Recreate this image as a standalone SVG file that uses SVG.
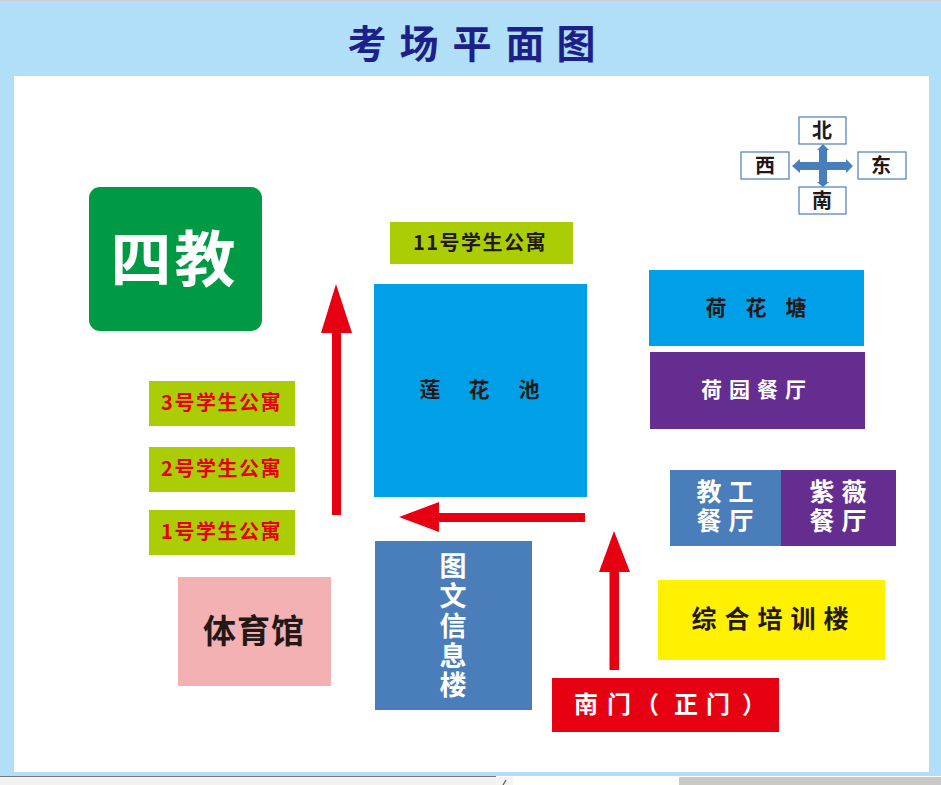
<svg xmlns="http://www.w3.org/2000/svg" width="941" height="785" viewBox="0 0 941 785">
<style>
text{font-family:"Noto Sans CJK SC","Liberation Sans",sans-serif;font-weight:700;text-anchor:middle;dominant-baseline:central}
.k{fill:#231815}.w{fill:#fff}.r{fill:#e60012}
.l{font-size:20px;letter-spacing:1.5px}
.c{font-size:20px}
.d{fill:#fff;stroke:#4a7ebb;stroke-width:1.2}
.a{fill:#e60012}
</style>
<rect width="941" height="785" fill="#fff"/>
<g id="page">
<rect y="1" width="941" height="775" fill="#b0dff7"/>
<rect x="14" y="76" width="915" height="696" fill="#fff"/>
<rect y="0" width="941" height="1" fill="#d0d0d0"/>
<rect y="776" width="496" height="9" fill="#f2f2f2"/>
<rect y="776" width="496" height="1" fill="#777"/>
<rect x="496" y="777" width="17" height="8" fill="#f4f4f4"/>
<path d="M503 785L506 780" stroke="#555" stroke-width="1.200" fill="none"/>
<rect x="679" y="777" width="262" height="8" fill="#c8c8c8"/>
<text x="367 419 472 525 576" y="41" font-size="39" fill="#1d2088">考场平面图</text>
</g>
<g id="compass">
<rect class="d" x="799" y="117" width="47" height="27"/><text class="k c" x="822" y="129">北</text>
<rect class="d" x="741" y="152" width="48" height="27"/><text class="k c" x="765" y="164">西</text>
<rect class="d" x="858" y="152" width="48" height="27"/><text class="k c" x="881" y="164">东</text>
<rect class="d" x="799" y="187" width="47" height="27"/><text class="k c" x="822" y="199">南</text>
<path fill="#4a7ebb" d="M792 166L800 159V162H819V150H817L823 144L829 150H827V162H846V159L853 166L846 173V170H827V182H829L823 187L817 182H819V170H800V173Z"/>
</g>
<g id="siJiao"><rect x="89" y="187" width="173" height="144" rx="11" fill="#009a44"/><text class="w" x="141 205" y="255" font-size="61">四教</text></g>
<g id="apt11"><rect x="390" y="222" width="183" height="42" fill="#aacd06"/><text class="k l" x="480" y="241">11号学生公寓</text></g>
<g id="lianHuaChi"><rect x="374" y="284" width="213" height="213" fill="#00a0e9"/><text class="k" x="430 479 529" y="388" font-size="21">莲花池</text></g>
<g id="heHuaTang"><rect x="649" y="270" width="215" height="76" fill="#00a0e9"/><text class="k" x="716 756 796" y="306" font-size="21">荷花塘</text></g>
<g id="heYuan"><rect x="650" y="352" width="215" height="77" fill="#662d91"/><text class="w" x="757" y="388" font-size="21" letter-spacing="7">荷园餐厅</text></g>
<g id="apt3"><rect x="149" y="381" width="146" height="45" fill="#aacd06"/><text class="r l" x="221.500" y="401.500">3号学生公寓</text></g>
<g id="apt2"><rect x="149" y="447" width="146" height="45" fill="#aacd06"/><text class="r l" x="221.500" y="467.500">2号学生公寓</text></g>
<g id="apt1"><rect x="149" y="510" width="146" height="45" fill="#aacd06"/><text class="r l" x="221.500" y="530.500">1号学生公寓</text></g>
<g id="jiaoGong"><rect x="670" y="470" width="111" height="76" fill="#4a7ebb"/><text class="w" x="709 741 709 741" y="490 490 519 519" font-size="25">教工餐厅</text></g>
<g id="ziWei"><rect x="781" y="470" width="115" height="76" fill="#662d91"/><text class="w" x="822 854 822 854" y="490 490 519 519" font-size="25">紫薇餐厅</text></g>
<g id="tiYuGuan"><rect x="178" y="577" width="153" height="109" fill="#f4b1b3"/><text class="k" x="254" y="629" font-size="33" letter-spacing="1">体育馆</text></g>
<g id="tuWen"><rect x="375" y="541" width="157" height="169" fill="#4a7ebb"/>
<text class="w" x="453 453 453 453 453" y="564 594 624 654 683" font-size="27">图文信息楼</text></g>
<g id="zongHe"><rect x="658" y="580" width="227" height="80" fill="#fff100"/><text class="k" x="774" y="617" font-size="25" letter-spacing="8">综合培训楼</text></g>
<g id="nanMen"><rect x="552" y="678" width="227" height="54" fill="#e60012"/><text class="w" x="586 619 647 686 718 754" y="702" font-size="24">南门（正门）</text></g>
<g id="connectors">
<path class="a" d="M332 515V333H321L336 284L352 333H341V515Z"/>
<path class="a" d="M585 513V522H439V532L399 517L439 502V513Z"/>
<path class="a" d="M609.500 670V572H599L614 531L630 572H619V670Z"/>
</g>
</svg>
